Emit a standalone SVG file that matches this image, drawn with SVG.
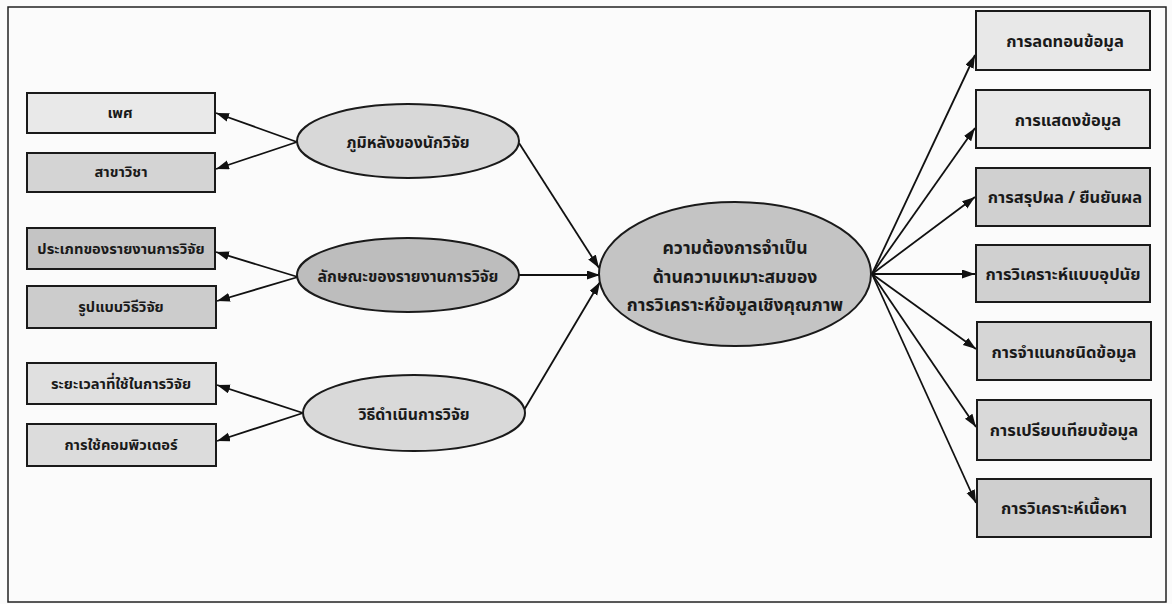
<svg xmlns="http://www.w3.org/2000/svg" width="1172" height="604" viewBox="0 0 1172 604">
<defs>
<marker id="ah" markerUnits="userSpaceOnUse" markerWidth="14" markerHeight="10" refX="13" refY="4.5" orient="auto">
<path d="M0,0 L13,4.5 L0,9 Z" fill="#111"/>
</marker>
<style>
.box{stroke:#1a1a1a;stroke-width:2}
.ell{stroke:#1a1a1a;stroke-width:2}
.t{font-family:"Noto Sans Thai","Tahoma","Liberation Sans","DejaVu Sans",sans-serif;font-weight:bold;fill:#1a1a1a;text-anchor:middle;dominant-baseline:central}
.s{font-size:14.7px}
.m{font-size:15.8px}
.r{font-size:16.5px}
.l{font-size:17.6px}
.c line{stroke:#111;stroke-width:1.8;marker-end:url(#ah)}
</style>
</defs>
<rect width="1172" height="604" fill="#fbfbfb"/>
<rect x="8" y="7" width="1158" height="595" fill="none" stroke="#222" stroke-width="1.5"/>
<g class="c" id="connectors">
<line x1="297" y1="142" x2="216" y2="113"/>
<line x1="297" y1="142" x2="216" y2="169"/>
<line x1="298" y1="277" x2="216" y2="252"/>
<line x1="298" y1="277" x2="217" y2="301"/>
<line x1="303" y1="413" x2="217" y2="385"/>
<line x1="303" y1="413" x2="217" y2="441"/>
<line x1="519" y1="143" x2="599" y2="268"/>
<line x1="519" y1="275" x2="600" y2="275"/>
<line x1="524" y1="410" x2="600" y2="282"/>
<line x1="872" y1="274" x2="975" y2="55"/>
<line x1="872" y1="274" x2="975" y2="128"/>
<line x1="872" y1="274" x2="975" y2="197"/>
<line x1="872" y1="274" x2="975" y2="274"/>
<line x1="872" y1="274" x2="976" y2="349"/>
<line x1="872" y1="274" x2="976" y2="427"/>
<line x1="872" y1="274" x2="976" y2="503"/>
</g>
<g id="n-sex"><rect class="box" x="27" y="93" width="188" height="40" fill="#e9e9e9"/><text class="t s" x="120" y="113">เพศ</text></g>
<g id="n-field"><rect class="box" x="27" y="153" width="188" height="39" fill="#d4d4d4"/><text class="t s" x="121" y="172">สาขาวิชา</text></g>
<g id="n-type"><rect class="box" x="27" y="228" width="188" height="41" fill="#c4c4c4"/><text class="t s" x="121" y="249">ประเภทของรายงานการวิจัย</text></g>
<g id="n-design"><rect class="box" x="27" y="286" width="189" height="42" fill="#cccccc"/><text class="t s" x="121" y="307">รูปแบบวิธีวิจัย</text></g>
<g id="n-time"><rect class="box" x="27" y="363" width="189" height="41" fill="#e0e0e0"/><text class="t s" x="121" y="384">ระยะเวลาที่ใช้ในการวิจัย</text></g>
<g id="n-comp"><rect class="box" x="27" y="424" width="189" height="42" fill="#dcdcdc"/><text class="t s" x="121" y="445">การใช้คอมพิวเตอร์</text></g>
<g id="e-bg"><ellipse class="ell" cx="408" cy="141" rx="111" ry="37" fill="#d8d8d8"/><text class="t m" x="408" y="143">ภูมิหลังของนักวิจัย</text></g>
<g id="e-report"><ellipse class="ell" cx="408" cy="275" rx="111" ry="37" fill="#bdbdbd"/><text class="t m" x="408" y="277">ลักษณะของรายงานการวิจัย</text></g>
<g id="e-method"><ellipse class="ell" cx="414" cy="413" rx="111" ry="38" fill="#d9d9d9"/><text class="t m" x="414" y="415">วิธีดำเนินการวิจัย</text></g>
<g id="e-center"><ellipse class="ell" cx="735" cy="274" rx="136" ry="72" fill="#c4c4c4"/>
<text class="t l" x="735" y="248">ความต้องการจำเป็น</text>
<text class="t l" x="735" y="277">ด้านความเหมาะสมของ</text>
<text class="t l" x="735" y="305">การวิเคราะห์ข้อมูลเชิงคุณภาพ</text></g>
<g id="r1"><rect class="box" x="976" y="11" width="174" height="59" fill="#e8e8e8"/><text class="t r" x="1065" y="41">การลดทอนข้อมูล</text></g>
<g id="r2"><rect class="box" x="976" y="90" width="174" height="58" fill="#e8e8e8"/><text class="t r" x="1068" y="120">การแสดงข้อมูล</text></g>
<g id="r3"><rect class="box" x="976" y="168" width="174" height="58" fill="#d0d0d0"/><text class="t r" x="1065" y="197">การสรุปผล / ยืนยันผล</text></g>
<g id="r4"><rect class="box" x="976" y="245" width="174" height="57" fill="#d0d0d0"/><text class="t r" x="1063" y="274">การวิเคราะห์แบบอุปนัย</text></g>
<g id="r5"><rect class="box" x="977" y="322" width="174" height="58" fill="#d6d6d6"/><text class="t r" x="1064" y="352">การจำแนกชนิดข้อมูล</text></g>
<g id="r6"><rect class="box" x="977" y="400" width="174" height="60" fill="#d9d9d9"/><text class="t r" x="1064" y="430">การเปรียบเทียบข้อมูล</text></g>
<g id="r7"><rect class="box" x="977" y="479" width="174" height="58" fill="#cfcfcf"/><text class="t r" x="1064" y="508">การวิเคราะห์เนื้อหา</text></g>
</svg>
